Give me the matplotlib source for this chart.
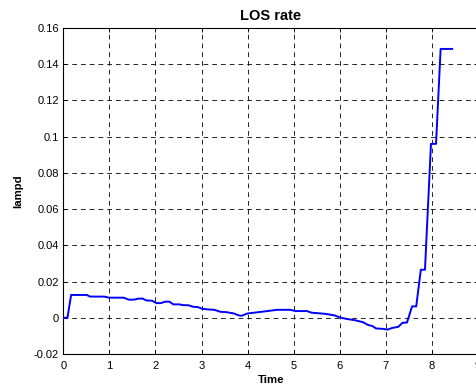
import matplotlib

matplotlib.use("Agg")
import matplotlib.pyplot as plt

# values
time = [0.0, 0.09, 0.17, 0.51, 0.58, 0.89, 0.99, 1.31, 1.42, 1.53, 1.64, 1.72,
        1.80, 1.93, 2.02, 2.12, 2.21, 2.30, 2.39, 2.52, 2.59, 2.72, 2.81, 2.92,
        3.01, 3.14, 3.28, 3.41, 3.54, 3.70, 3.81, 3.87, 4.00, 4.14, 4.43, 4.64,
        4.93, 5.04, 5.29, 5.39, 5.68, 5.89, 6.00, 6.14, 6.32, 6.50, 6.61, 6.71,
        6.79, 6.93, 7.04, 7.14, 7.27, 7.36, 7.46, 7.57, 7.66, 7.76, 7.85, 7.98,
        8.09, 8.19, 8.44]
lampd = [0.0, 0.0, 0.0126, 0.0126, 0.0117, 0.0117, 0.0111, 0.0111, 0.0100, 0.0100,
         0.0106, 0.0106, 0.0096, 0.0094, 0.0081, 0.0081, 0.0089, 0.0089, 0.0074,
         0.0074, 0.0070, 0.0069, 0.0061, 0.0059, 0.0050, 0.0046, 0.0044, 0.0033,
         0.0031, 0.0024, 0.0013, 0.0011, 0.0024, 0.0028, 0.0037, 0.0044, 0.0044,
         0.0037, 0.0037, 0.0028, 0.0022, 0.0013, 0.0002, -0.0006, -0.0013, -0.0024,
         -0.0039, -0.0046, -0.0059, -0.0061, -0.0065, -0.0056, -0.0050, -0.0028,
         -0.0026, 0.0063, 0.0063, 0.0265, 0.0265, 0.096, 0.096, 0.1484, 0.1484]
xticks = [0, 1, 2, 3, 4, 5, 6, 7, 8, 9]
yticks = [-0.02, 0, 0.02, 0.04, 0.06, 0.08, 0.1, 0.12, 0.14, 0.16]
ytick_labels = ["-0.02", "0", "0.02", "0.04", "0.06", "0.08", "0.1", "0.12", "0.14", "0.16"]

plt.rcParams["font.family"] = ["Liberation Sans", "DejaVu Sans"]
plt.rcParams["lines.scale_dashes"] = False

fig = plt.figure(figsize=(4.77, 3.91), dpi=100)
ax = fig.add_axes([0.1327, 0.0946, 0.8693, 0.834])

ax.plot(time, lampd, color="#0000ff", lw=1.4, zorder=3)

ax.set_xlim(0, 9)
ax.set_ylim(-0.02, 0.16)
ax.set_xticks(xticks)
ax.set_yticks(yticks)
ax.set_yticklabels(ytick_labels)
ax.tick_params(direction="in", top=True, right=True, length=3, width=0.6,
               labelsize=8)
ax.tick_params(axis="x", pad=5)
ax.tick_params(axis="y", pad=3)
ax.grid(True, color="black", lw=0.6, linestyle=(0, (3.4, 2.9)))
for s in ax.spines.values():
    s.set_linewidth(0.8)

ax.set_title("LOS rate", fontsize=10.5, fontweight="bold", pad=6)
ax.set_xlabel("Time", fontsize=8.2, fontweight="bold", labelpad=3)
ax.set_ylabel("lampd", fontsize=8.2, fontweight="bold", labelpad=8)

fig.savefig("out.png", dpi=100)
